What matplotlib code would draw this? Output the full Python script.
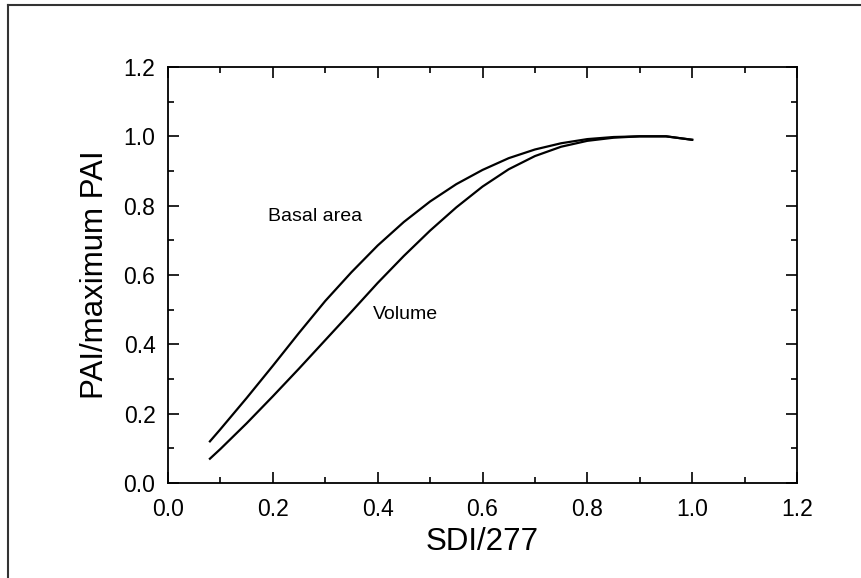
import matplotlib
matplotlib.use("Agg")
from matplotlib import pyplot as plt
from matplotlib.lines import Line2D
from matplotlib.ticker import MultipleLocator

plt.rcParams['font.family'] = ['Liberation Sans', 'DejaVu Sans']

# values
basal_x = [0.08, 0.10, 0.15, 0.20, 0.25, 0.30, 0.35, 0.40, 0.45, 0.50,
           0.55, 0.60, 0.65, 0.70, 0.75, 0.80, 0.85, 0.90, 0.95, 1.00]
basal_y = [0.12, 0.155, 0.245, 0.338, 0.433, 0.525, 0.608, 0.685, 0.753, 0.812,
           0.862, 0.903, 0.937, 0.962, 0.98, 0.992, 0.998, 1.0, 1.0, 0.99]

volume_x = [0.08, 0.10, 0.15, 0.20, 0.25, 0.30, 0.35, 0.40, 0.45, 0.50,
            0.55, 0.60, 0.65, 0.70, 0.75, 0.80, 0.85, 0.90, 0.95, 1.00]
volume_y = [0.07, 0.098, 0.172, 0.25, 0.33, 0.412, 0.494, 0.577, 0.655, 0.728,
            0.795, 0.855, 0.905, 0.943, 0.97, 0.987, 0.996, 1.0, 1.0, 0.99]

fig = plt.figure(figsize=(8.61, 5.78), dpi=100)
ax = fig.add_axes([0.1951, 0.1644, 0.7306, 0.7197])

ax.plot(basal_x, basal_y, color="black", lw=1.6)
ax.plot(volume_x, volume_y, color="black", lw=1.6)

ax.text(0.19, 0.77, "Basal area", fontsize=14, va="center", ha="left")
ax.text(0.39, 0.485, "Volume", fontsize=14, va="center", ha="left")

ax.set_xlim(0, 1.2)
ax.set_ylim(0, 1.2)
ax.xaxis.set_major_locator(MultipleLocator(0.2))
ax.xaxis.set_minor_locator(MultipleLocator(0.1))
ax.yaxis.set_major_locator(MultipleLocator(0.2))
ax.yaxis.set_minor_locator(MultipleLocator(0.1))
ax.xaxis.set_major_formatter(lambda v, p: "%.1f" % v)
ax.yaxis.set_major_formatter(lambda v, p: "%.1f" % v)

ax.tick_params(which="both", direction="in", top=True, right=True, width=1.2)
ax.tick_params(which="major", length=8)
ax.tick_params(which="minor", length=4.5)
ax.tick_params(axis="x", which="major", labelsize=16.5, pad=11)
ax.tick_params(axis="y", which="major", labelsize=16.5, pad=9)
for s in ax.spines.values():
    s.set_linewidth(1.3)

ax.set_xlabel("SDI/277", fontsize=22.5, labelpad=4)
ax.set_ylabel("PAI/maximum PAI", fontsize=22.5, labelpad=10)

# outer frame, running off the right and bottom edges
fig.add_artist(Line2D([0.0093, 1.0], [0.9905, 0.9905], transform=fig.transFigure,
                      color="#333333", lw=1.5))
fig.add_artist(Line2D([0.0093, 0.0093], [0.0, 0.9905], transform=fig.transFigure,
                      color="#333333", lw=1.5))

fig.savefig("out.png", dpi=100)
